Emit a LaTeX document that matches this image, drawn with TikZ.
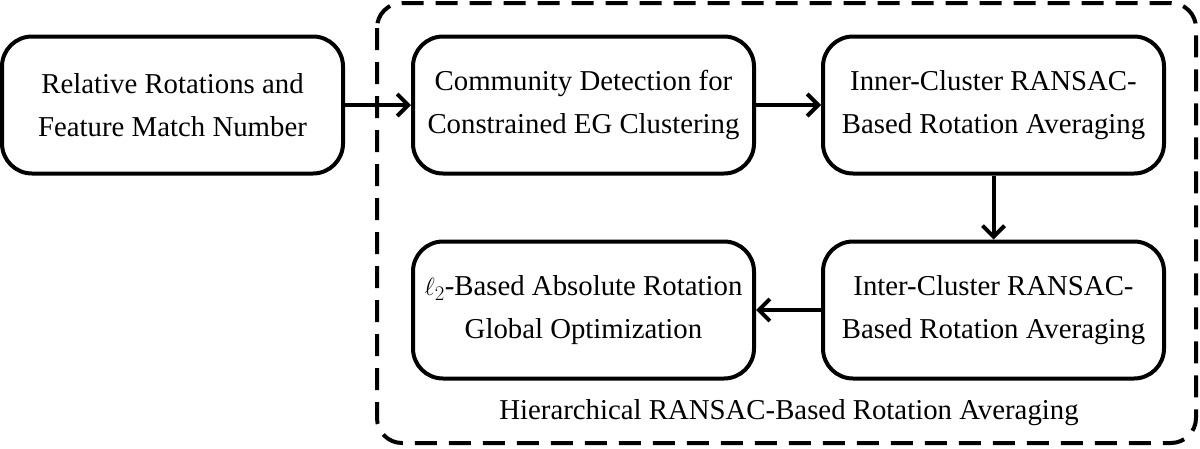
\documentclass[tikz,border=0pt]{standalone}
\usepackage{fontspec}
\setmainfont{Liberation Serif}
\usetikzlibrary{arrows.meta}
\tikzset{
  procbox/.style={draw, line width=4pt, rounded corners=30pt, minimum width=341pt, minimum height=137pt, align=center, inner sep=0pt, font=\fontsize{28.8}{43}\selectfont},
  flow/.style={line width=4pt, -{Straight Barb[length=11pt,width=22pt,line width=4pt]}},
  container/.style={draw, line width=4pt, dash pattern=on 22pt off 12pt, rounded corners=25pt}
}
\begin{document}
\begin{tikzpicture}[x=1pt,y=-1pt]
\useasboundingbox (0,0) rectangle (1200,448);
\draw[container] (377,3) rectangle (1196,443);
\node[procbox] (input) at (172.5,105) {Relative Rotations and\\Feature Match Number};
\node[procbox] (community) at (583.5,105) {Community Detection for\\Constrained EG Clustering};
\node[procbox] (inner) at (993.5,105) {Inner-Cluster RANSAC-\\Based Rotation Averaging};
\node[procbox] (inter) at (993.5,310) {Inter-Cluster RANSAC-\\Based Rotation Averaging};
\node[procbox] (global) at (583.5,310) {$\ell_2$-Based Absolute Rotation\\Global Optimization};
\node[font=\fontsize{28.8}{32}\selectfont] (label) at (789,413) {Hierarchical RANSAC-Based Rotation Averaging};
\draw[flow] (input) -- (community);
\draw[flow] (community) -- (inner);
\draw[flow] (inner) -- (inter);
\draw[flow] (inter) -- (global);
\end{tikzpicture}
\end{document}
